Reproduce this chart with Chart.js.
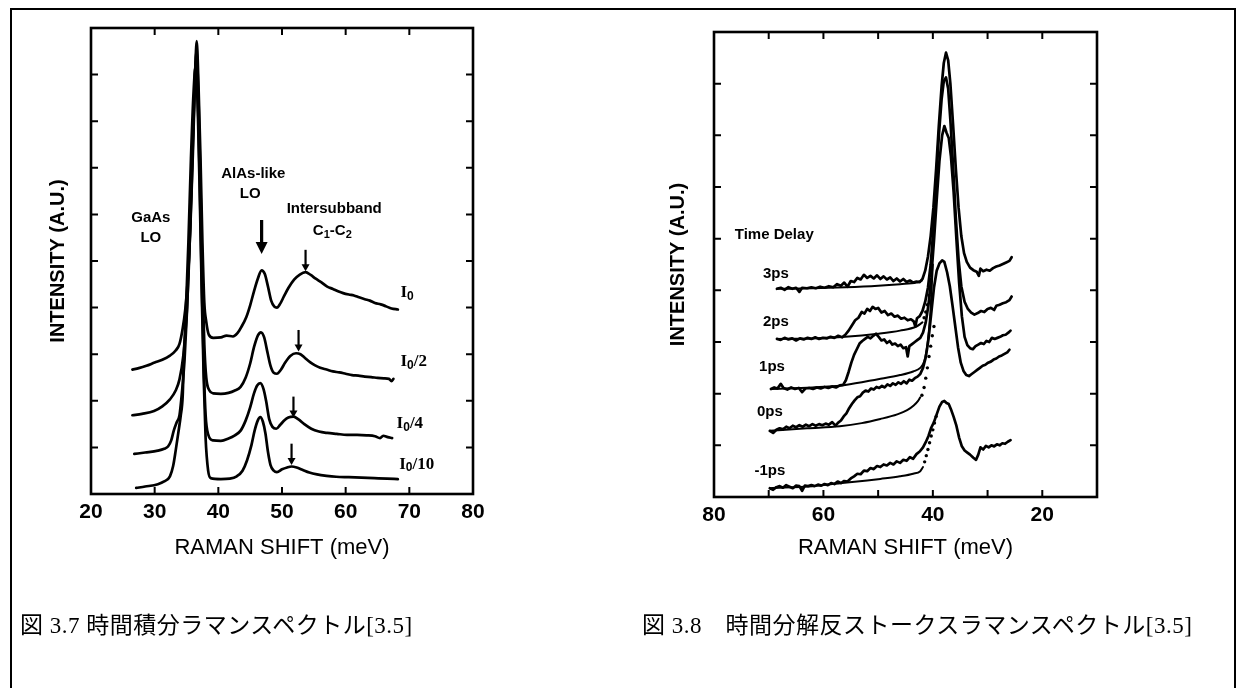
<!DOCTYPE html>
<html><head><meta charset="utf-8">
<script src="https://cdn.jsdelivr.net/npm/chart.js@4.4.0/dist/chart.umd.min.js"></script>
<style>
html,body{margin:0;padding:0;background:#fff;width:1241px;height:688px;overflow:hidden;}
#box{position:absolute;left:10px;top:8px;width:1226px;height:700px;border:2px solid #000;border-bottom:none;box-sizing:border-box;}
.wrap{position:absolute;top:0;}
.cap{position:absolute;font-family:"Liberation Serif","Noto Sans CJK JP",serif;font-size:23px;letter-spacing:0.5px;color:#000;white-space:pre;line-height:1;}
</style></head><body>
<div id="box"></div>
<div class="wrap" style="left:0;width:620px;height:688px"><canvas id="c1" width="620" height="688"></canvas></div>
<div class="wrap" style="left:620px;width:621px;height:688px"><canvas id="c2" width="621" height="688"></canvas></div>
<div class="cap" style="left:20px;top:614px">図 3.7 時間積分ラマンスペクトル[3.5]</div>
<div class="cap" style="left:642px;top:614px">図 3.8　時間分解反ストークスラマンスペクトル[3.5]</div>
<script>
// ---------- Left panel: time-integrated Raman spectra (x: meV, y: a.u.) ----------
const leftTicksX = [20,30,40,50,60,70,80];
const specI0 = [[26.5,2.67],[27.5,2.70],[28.7,2.75],[30.0,2.82],[31.2,2.88],[32.4,2.97],[33.3,3.08],[33.9,3.22],[34.4,3.55],[34.8,3.95],[35.2,4.6],[35.6,5.7],[36.0,7.3],[36.3,8.7],[36.6,9.72],[36.9,8.7],[37.2,7.2],[37.5,5.4],[37.8,4.1],[38.1,3.7],[38.5,3.42],[39.2,3.35],[40.4,3.36],[41.3,3.40],[42.3,3.38],[43.0,3.45],[43.6,3.58],[44.4,3.80],[45.0,4.05],[45.6,4.35],[46.2,4.62],[46.8,4.8],[47.3,4.72],[47.8,4.45],[48.3,4.15],[48.8,4.02],[49.2,4.0],[49.7,4.08],[50.3,4.24],[51.0,4.42],[51.9,4.60],[52.8,4.71],[53.7,4.76],[54.5,4.70],[55.3,4.62],[56.2,4.54],[57.1,4.45],[58.0,4.40],[58.8,4.35],[59.6,4.31],[60.5,4.28],[61.3,4.26],[62.1,4.22],[63.0,4.18],[63.8,4.15],[64.6,4.10],[65.5,4.07],[66.3,4.03],[67.2,3.98],[68.2,3.96]];
const specI0_2 = [[26.5,1.69],[28.0,1.72],[29.9,1.78],[31.2,1.88],[32.4,2.03],[33.3,2.22],[33.9,2.46],[34.5,2.97],[35.0,3.8],[35.4,5.0],[35.8,6.6],[36.2,8.4],[36.55,9.5],[36.9,8.4],[37.2,6.6],[37.5,4.6],[37.8,3.2],[38.1,2.5],[38.6,2.22],[39.2,2.16],[40.4,2.15],[41.6,2.17],[42.6,2.22],[43.5,2.30],[44.3,2.5],[45.0,2.8],[45.6,3.15],[46.2,3.4],[46.7,3.47],[47.2,3.36],[47.7,3.05],[48.2,2.75],[48.7,2.6],[49.2,2.58],[49.8,2.66],[50.5,2.82],[51.3,2.96],[52.2,3.02],[52.9,3.0],[53.6,2.92],[54.4,2.83],[55.2,2.76],[56.0,2.71],[57.0,2.67],[58.0,2.63],[59.0,2.61],[60.0,2.58],[61.0,2.55],[62.0,2.54],[63.0,2.52],[64.0,2.51],[65.0,2.49],[66.0,2.48],[66.8,2.47],[67.2,2.42],[67.5,2.47]];
const specI0_4 = [[26.8,0.86],[28.5,0.89],[30.5,0.93],[31.5,0.97],[32.1,1.02],[32.6,1.15],[33.0,1.36],[33.5,1.55],[33.9,1.69],[34.3,2.2],[34.7,2.9],[35.1,4.0],[35.5,5.5],[35.9,7.3],[36.2,8.5],[36.5,9.3],[36.8,8.4],[37.1,6.6],[37.4,4.5],[37.7,2.8],[38.0,1.7],[38.4,1.28],[39.2,1.15],[40.4,1.14],[41.6,1.19],[42.6,1.26],[43.5,1.36],[44.3,1.58],[45.0,1.86],[45.6,2.16],[46.1,2.33],[46.6,2.38],[47.1,2.25],[47.5,2.0],[48.0,1.6],[48.5,1.44],[49.1,1.40],[49.7,1.48],[50.3,1.57],[51.0,1.64],[51.8,1.66],[52.6,1.60],[53.5,1.50],[54.6,1.40],[55.8,1.34],[57.1,1.31],[58.6,1.29],[60.2,1.27],[61.8,1.27],[63.3,1.26],[64.6,1.24],[65.4,1.20],[65.9,1.25],[66.6,1.22],[67.3,1.20]];
const specI0_10 = [[27.1,0.13],[28.5,0.16],[30.5,0.21],[31.5,0.27],[32.4,0.38],[32.9,0.6],[33.3,0.93],[33.7,1.3],[34.1,1.69],[34.4,2.1],[34.6,2.97],[34.9,3.9],[35.3,5.4],[35.7,7.2],[36.1,8.6],[36.45,9.2],[36.8,8.1],[37.1,6.3],[37.4,4.3],[37.7,2.5],[38.0,1.2],[38.4,0.5],[38.8,0.34],[40.4,0.32],[41.8,0.33],[42.9,0.38],[43.8,0.5],[44.5,0.72],[45.2,1.05],[45.7,1.36],[46.2,1.58],[46.6,1.65],[47.0,1.55],[47.4,1.3],[47.8,0.9],[48.2,0.62],[48.7,0.5],[49.2,0.47],[50.0,0.53],[50.8,0.57],[51.5,0.59],[52.3,0.57],[53.2,0.52],[54.3,0.46],[55.5,0.42],[57.0,0.39],[58.5,0.37],[60.5,0.36],[62.5,0.35],[64.5,0.34],[66.5,0.33],[68.2,0.32]];

// ---------- Right panel: time-resolved anti-Stokes Raman spectra ----------
const rightTickLabels = [80,60,40,20];
const ps3 = [[68.5,4.03],[67.8,4.05],[67.1,4.01],[66.4,4.06],[65.7,4.03],[65.0,4.05],[64.4,3.97],[63.9,4.05],[63.0,4.04],[62.2,4.06],[61.4,4.04],[60.6,4.07],[59.8,4.05],[59.0,4.08],[58.2,4.06],[57.5,4.12],[56.8,4.09],[56.2,4.15],[55.6,4.07],[55.0,4.18],[54.4,4.16],[53.8,4.24],[53.2,4.21],[52.6,4.30],[52.0,4.24],[51.4,4.28],[50.8,4.23],[50.2,4.29],[49.6,4.22],[49.0,4.27],[48.4,4.21],[47.8,4.25],[47.2,4.18],[46.6,4.23],[46.0,4.17],[45.4,4.22],[44.8,4.16],[44.2,4.19],[43.6,4.15],[43.0,4.17],[42.4,4.16],[41.9,4.22],[41.4,4.38],[40.9,4.65],[40.4,5.05],[39.9,5.6],[39.4,6.35],[38.9,7.2],[38.4,7.95],[38.0,8.4],[37.6,8.6],[37.2,8.45],[36.8,8.0],[36.3,7.2],[35.8,6.35],[35.3,5.6],[34.8,5.05],[34.3,4.72],[33.8,4.55],[33.2,4.44],[32.6,4.39],[32.0,4.36],[31.6,4.28],[31.3,4.42],[30.8,4.37],[30.2,4.40],[29.6,4.38],[29.0,4.43],[28.4,4.46],[27.8,4.48],[27.2,4.51],[26.6,4.54],[26.0,4.57],[25.6,4.64]];
const ps3Fit = [[68.5,4.03],[62,4.04],[56,4.06],[50,4.09],[46,4.12],[43,4.15],[42,4.19]];
const ps2 = [[68.5,3.06],[67.8,3.04],[67.1,3.08],[66.4,3.05],[65.7,3.07],[65.0,3.03],[64.3,3.07],[63.6,3.05],[62.9,3.08],[62.2,3.06],[61.5,3.09],[60.8,3.06],[60.1,3.08],[59.4,3.07],[58.7,3.10],[58.0,3.08],[57.3,3.12],[56.6,3.09],[56.0,3.14],[55.4,3.22],[54.8,3.32],[54.2,3.42],[53.6,3.47],[53.0,3.58],[52.5,3.55],[52.0,3.64],[51.5,3.60],[51.0,3.68],[50.5,3.64],[50.0,3.66],[49.4,3.57],[48.8,3.60],[48.2,3.52],[47.6,3.55],[47.0,3.49],[46.4,3.51],[45.8,3.45],[45.2,3.47],[44.6,3.42],[44.0,3.44],[43.5,3.40],[43.2,3.30],[42.9,3.46],[42.4,3.50],[41.9,3.60],[41.4,3.78],[40.9,4.05],[40.4,4.5],[39.9,5.2],[39.4,6.1],[38.9,7.0],[38.4,7.7],[38.0,8.05],[37.6,8.12],[37.2,7.9],[36.8,7.3],[36.3,6.4],[35.8,5.4],[35.3,4.6],[34.8,4.08],[34.2,3.78],[33.6,3.64],[33.0,3.57],[32.4,3.53],[31.8,3.56],[31.2,3.60],[30.6,3.58],[30.0,3.64],[29.4,3.66],[28.8,3.62],[28.4,3.70],[27.8,3.72],[27.2,3.75],[26.6,3.77],[26.0,3.81],[25.6,3.88]];
const ps2Fit = [[68.5,3.06],[62,3.07],[56,3.10],[50,3.16],[46,3.22],[43,3.30],[41.9,3.38]];
const ps2Dots = [[41.6,3.47],[41.3,3.58],[41.0,3.72],[40.7,3.9]];
const ps1 = [[69.6,2.09],[69.0,2.12],[68.4,2.10],[67.8,2.19],[67.3,2.11],[66.6,2.08],[65.9,2.12],[65.2,2.09],[64.5,2.11],[63.9,2.03],[63.3,2.10],[62.6,2.11],[61.9,2.09],[61.2,2.12],[60.5,2.10],[59.8,2.13],[59.1,2.11],[58.4,2.14],[57.7,2.12],[57.0,2.16],[56.4,2.17],[55.9,2.26],[55.4,2.42],[54.9,2.60],[54.4,2.75],[53.9,2.86],[53.4,2.97],[52.9,3.02],[52.4,3.06],[51.9,3.10],[51.4,3.07],[50.9,3.12],[50.4,3.16],[49.9,3.10],[49.4,3.03],[48.9,3.05],[48.4,2.98],[47.9,3.02],[47.4,2.95],[46.9,2.97],[46.4,2.92],[45.9,2.95],[45.4,2.88],[44.9,2.90],[44.6,2.72],[44.3,2.92],[43.8,2.96],[43.3,3.00],[42.8,3.04],[42.3,3.08],[41.8,3.18],[41.3,3.38],[40.8,3.72],[40.3,4.25],[39.8,4.95],[39.3,5.75],[38.8,6.5],[38.3,7.0],[37.9,7.18],[37.5,7.05],[37.1,6.95],[36.7,6.6],[36.2,5.9],[35.7,5.0],[35.2,4.15],[34.7,3.5],[34.2,3.1],[33.7,2.94],[33.2,2.88],[32.7,2.86],[32.2,2.92],[31.7,2.95],[31.2,2.98],[30.7,2.96],[30.2,3.02],[29.7,3.00],[29.2,3.08],[28.7,3.06],[28.2,3.08],[27.7,3.10],[27.2,3.13],[26.7,3.14],[26.2,3.18],[25.8,3.22]];
const ps1Fit = [[69.6,2.09],[62,2.12],[56,2.17],[50,2.28],[46,2.36],[43.6,2.43],[42.3,2.5],[41.6,2.62],[41.0,2.95],[40.5,3.5],[40.0,4.5]];
const ps0 = [[69.8,1.28],[69.2,1.24],[68.6,1.30],[68.0,1.33],[67.4,1.31],[66.8,1.36],[66.2,1.33],[65.6,1.38],[65.0,1.35],[64.4,1.39],[63.8,1.36],[63.2,1.40],[62.6,1.37],[62.0,1.41],[61.4,1.38],[60.8,1.41],[60.2,1.39],[59.6,1.42],[59.0,1.40],[58.4,1.45],[57.8,1.38],[57.3,1.44],[56.8,1.48],[56.3,1.56],[55.8,1.62],[55.3,1.72],[54.8,1.80],[54.3,1.87],[53.8,1.93],[53.3,1.95],[52.8,2.02],[52.3,2.06],[51.8,2.04],[51.3,2.10],[50.8,2.08],[50.3,2.13],[49.8,2.11],[49.3,2.15],[48.8,2.12],[48.3,2.18],[47.8,2.15],[47.3,2.20],[46.8,2.17],[46.3,2.22],[45.8,2.19],[45.3,2.24],[44.8,2.20],[44.3,2.27],[43.8,2.25],[43.3,2.30],[42.8,2.33],[42.3,2.38],[41.8,2.50],[41.3,2.70],[40.8,3.05],[40.3,3.55],[39.8,4.05],[39.3,4.38],[38.8,4.52],[38.3,4.58],[37.9,4.55],[37.4,4.35],[36.9,4.08],[36.4,3.7],[35.9,3.3],[35.4,2.9],[34.9,2.6],[34.4,2.44],[33.9,2.36],[33.4,2.34],[32.9,2.38],[32.4,2.42],[31.9,2.46],[31.4,2.50],[30.9,2.54],[30.4,2.56],[29.9,2.60],[29.4,2.62],[28.9,2.66],[28.4,2.68],[27.9,2.72],[27.4,2.74],[26.9,2.77],[26.4,2.80],[26.0,2.85]];
const ps0Fit = [[69.8,1.28],[63,1.33],[57,1.37],[53,1.43],[49.6,1.51],[46.5,1.6],[44.7,1.68],[43.5,1.77],[42.7,1.86],[42.3,1.93]];
const ps0Dots = [[42.0,1.97],[41.6,2.12],[41.3,2.3],[41.0,2.5],[40.7,2.72],[40.4,2.92],[40.1,3.12],[39.8,3.3]];
const psM1 = [[69.8,0.17],[69.2,0.14],[68.6,0.19],[68.0,0.21],[67.4,0.18],[66.8,0.23],[66.2,0.20],[65.6,0.17],[65.0,0.22],[64.4,0.21],[63.9,0.12],[63.4,0.22],[62.8,0.21],[62.2,0.23],[61.6,0.21],[61.0,0.24],[60.4,0.22],[59.8,0.25],[59.2,0.23],[58.6,0.27],[58.0,0.25],[57.4,0.30],[56.8,0.27],[56.2,0.31],[55.6,0.30],[55.0,0.36],[54.4,0.40],[53.8,0.45],[53.2,0.44],[52.6,0.51],[52.0,0.50],[51.4,0.56],[50.8,0.54],[50.2,0.60],[49.6,0.58],[49.0,0.63],[48.4,0.61],[47.8,0.66],[47.2,0.63],[46.6,0.69],[46.0,0.66],[45.4,0.72],[44.8,0.70],[44.2,0.77],[43.6,0.74],[43.0,0.83],[42.4,0.88],[41.8,0.96],[41.3,1.06],[40.8,1.18],[40.3,1.34],[39.8,1.45],[39.3,1.6],[38.8,1.75],[38.3,1.84],[37.9,1.86],[37.5,1.82],[37.1,1.80],[36.7,1.70],[36.2,1.55],[35.7,1.38],[35.2,1.15],[34.7,0.98],[34.2,0.90],[33.7,0.86],[33.2,0.82],[32.6,0.76],[32.1,0.72],[31.7,0.82],[31.3,0.96],[30.8,0.92],[30.3,0.99],[29.8,0.96],[29.3,1.00],[28.8,0.98],[28.3,1.02],[27.8,1.00],[27.3,1.04],[26.8,1.03],[26.3,1.07],[25.8,1.10]];
const psM1Fit = [[69.8,0.17],[62,0.21],[55.7,0.28],[52,0.32],[49.6,0.35],[46,0.40],[43.6,0.45],[42.3,0.50],[41.8,0.58]];
const psM1Dots = [[41.5,0.68],[41.2,0.8],[40.9,0.92],[40.6,1.05],[40.3,1.18],[40.0,1.3],[39.7,1.43],[39.4,1.56]];

// ---------- Annotations (text in data coordinates) ----------
const leftNotes = {
  labels: [
    {x:29.4, y:5.92, parts:[['GaAs']]},
    {x:29.4, y:5.5, parts:[['LO']]},
    {x:45.5, y:6.86, parts:[['AlAs-like']]},
    {x:45.0, y:6.44, parts:[['LO']]},
    {x:58.2, y:6.12, parts:[['Intersubband']]},
    {x:57.9, y:5.64, parts:[['C'],['1','sub'],['-C'],['2','sub']]},
    {x:68.6, y:4.32, align:'left', serif:true, parts:[['I'],['0','sub']]},
    {x:68.6, y:2.84, align:'left', serif:true, parts:[['I'],['0','sub'],['/2']]},
    {x:68.0, y:1.5, align:'left', serif:true, parts:[['I'],['0','sub'],['/4']]},
    {x:68.4, y:0.64, align:'left', serif:true, parts:[['I'],['0','sub'],['/10']]}
  ],
  arrows: [
    {x:46.8, y1:5.88, y2:5.15, big:true},
    {x:53.7, y1:5.24, y2:4.78},
    {x:52.6, y1:3.52, y2:3.06},
    {x:51.8, y1:2.09, y2:1.64},
    {x:51.5, y1:1.08, y2:0.62}
  ]
};
const rightNotes = {
  labels: [
    {x:76.2, y:5.07, align:'left', parts:[['Time Delay']]},
    {x:68.7, y:4.32, parts:[['3ps']]},
    {x:68.7, y:3.39, parts:[['2ps']]},
    {x:69.4, y:2.52, parts:[['1ps']]},
    {x:69.8, y:1.65, parts:[['0ps']]},
    {x:69.8, y:0.5, parts:[['-1ps']]}
  ],
  arrows: []
};

const pts = a => a.map(p => ({x:p[0], y:p[1]}));
const lineDs = (a, smooth) => ({data:pts(a), borderColor:'#000', borderWidth:2.7, pointRadius:0, fill:false,
  tension:0, cubicInterpolationMode: smooth ? 'monotone' : 'default', borderJoinStyle:'round', borderCapStyle:'round'});
const fitDs = a => ({data:pts(a), borderColor:'#000', borderWidth:2, pointRadius:0, fill:false, cubicInterpolationMode:'monotone', borderCapStyle:'round'});
const dotDs = a => ({data:pts(a), showLine:false, pointRadius:1.7, pointBackgroundColor:'#000', pointBorderWidth:0});

const framePlugin = {
  id:'frame',
  afterDatasetsDraw(chart){
    const {ctx, chartArea:{left,right,top,bottom}, scales:{x,y}} = chart;
    ctx.save();
    ctx.strokeStyle = '#000';
    ctx.lineWidth = 2.6;
    ctx.strokeRect(left, top, right-left, bottom-top);
    ctx.lineWidth = 2;
    const L = 7;
    x.ticks.forEach(t => {
      const px = x.getPixelForValue(t.value);
      if (px < left+3 || px > right-3) return;
      ctx.beginPath(); ctx.moveTo(px, bottom); ctx.lineTo(px, bottom-L);
      ctx.moveTo(px, top); ctx.lineTo(px, top+L); ctx.stroke();
    });
    y.ticks.forEach(t => {
      const py = y.getPixelForValue(t.value);
      if (py < top+3 || py > bottom-3) return;
      ctx.beginPath(); ctx.moveTo(left, py); ctx.lineTo(left+L, py);
      ctx.moveTo(right, py); ctx.lineTo(right-L, py); ctx.stroke();
    });
    ctx.restore();
  }
};

const notesPlugin = {
  id:'notes',
  afterDatasetsDraw(chart, args, opts){
    const {ctx, scales:{x,y}} = chart;
    ctx.save();
    ctx.fillStyle = '#000';
    ctx.strokeStyle = '#000';
    (opts.labels||[]).forEach(l => {
      const main = l.serif ? 'bold 17px "Liberation Serif"' : 'bold 15px "Liberation Sans"';
      const sub = l.serif ? 'bold 12px "Liberation Sans"' : 'bold 11px "Liberation Sans"';
      let w = 0;
      l.parts.forEach(p => { ctx.font = p[1]==='sub' ? sub : main; w += ctx.measureText(p[0]).width; });
      let cx = x.getPixelForValue(l.x);
      if (l.align !== 'left') cx -= w/2;
      const cy = y.getPixelForValue(l.y);
      ctx.textBaseline = 'middle'; ctx.textAlign = 'left';
      l.parts.forEach(p => {
        const isSub = p[1]==='sub';
        ctx.font = isSub ? sub : main;
        ctx.fillText(p[0], cx, cy + (isSub ? 4 : 0));
        cx += ctx.measureText(p[0]).width;
      });
    });
    (opts.arrows||[]).forEach(a => {
      const px = x.getPixelForValue(a.x);
      const p1 = y.getPixelForValue(a.y1), p2 = y.getPixelForValue(a.y2);
      const hl = a.big ? 12 : 7, hw = a.big ? 6 : 4;
      ctx.lineWidth = a.big ? 3.2 : 2.2;
      ctx.beginPath(); ctx.moveTo(px, p1); ctx.lineTo(px, p2-hl+1); ctx.stroke();
      ctx.beginPath(); ctx.moveTo(px-hw, p2-hl); ctx.lineTo(px+hw, p2-hl); ctx.lineTo(px, p2); ctx.closePath(); ctx.fill();
    });
    ctx.restore();
  }
};

const axisFont = {family:'"Liberation Sans", Arial, sans-serif', size:21, weight:'bold'};
const xTitleFont = {family:'"Liberation Sans", Arial, sans-serif', size:22};
const yTitleFont = {family:'"Liberation Sans", Arial, sans-serif', size:20, weight:'bold'};

function makeChart(id, datasets, xOpts, yMax, pad, yWidth, xHeight, notes){
  return new Chart(document.getElementById(id), {
    type:'line',
    data:{datasets},
    options:{
      responsive:false, animation:false, events:[],
      layout:{padding:pad},
      plugins:{legend:{display:false}, tooltip:{enabled:false}, notes},
      scales:{
        x:Object.assign({type:'linear', border:{display:false}, grid:{display:false, drawTicks:false},
          title:{display:true, text:'RAMAN SHIFT (meV)', font:xTitleFont, color:'#000', padding:{top:0, bottom:127}},
          afterFit(s){ s.height = xHeight; }}, xOpts),
        y:{type:'linear', min:0, max:yMax, border:{display:false}, grid:{display:false, drawTicks:false},
          ticks:{stepSize:1, display:false},
          title:{display:true, text:'INTENSITY (A.U.)', font:yTitleFont, color:'#000', padding:{top:46, bottom:0}},
          afterFit(s){ s.width = yWidth; }}
      }
    },
    plugins:[framePlugin, notesPlugin]
  });
}

makeChart('c1',
  [lineDs(specI0,true), lineDs(specI0_2,true), lineDs(specI0_4,true), lineDs(specI0_10,true)],
  {min:leftTicksX[0], max:leftTicksX[leftTicksX.length-1],
   ticks:{stepSize:10, autoSkip:false, maxRotation:0, padding:6, color:'#000', font:axisFont}},
  10, {top:28, right:147, left:0, bottom:0}, 91, 194, leftNotes);

makeChart('c2',
  [lineDs(ps3), fitDs(ps3Fit), lineDs(ps2), fitDs(ps2Fit), dotDs(ps2Dots),
   lineDs(ps1), fitDs(ps1Fit), lineDs(ps0), fitDs(ps0Fit), dotDs(ps0Dots),
   lineDs(psM1), fitDs(psM1Fit), dotDs(psM1Dots)],
  {min:10, max:80, reverse:true,
   ticks:{stepSize:10, autoSkip:false, maxRotation:0, padding:6, color:'#000', font:axisFont,
     callback:v => rightTickLabels.includes(v) ? String(v) : ''}},
  9, {top:32, right:144, left:0, bottom:0}, 94, 191, rightNotes);
</script>
</body></html>
